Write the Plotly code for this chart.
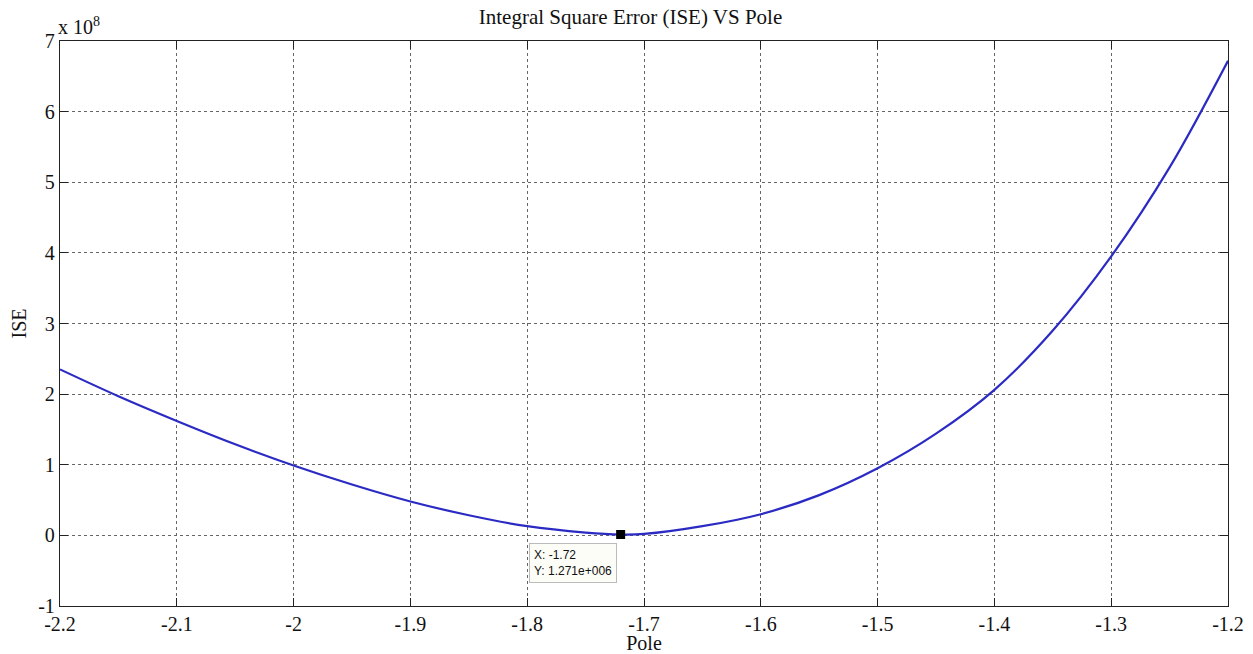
import plotly.graph_objects as go

# Data
pole = [-2.2, -2.15, -2.1, -2.05, -2.0, -1.95, -1.9, -1.85, -1.8, -1.75, -1.72,
        -1.7, -1.65, -1.6, -1.55, -1.5, -1.45, -1.4, -1.35, -1.3, -1.25, -1.2]
ise = [2.35e8, 1.97e8, 1.62e8, 1.29e8, 0.99e8, 0.72e8, 0.48e8, 0.285e8, 0.13e8, 0.04e8, 0.01271e8,
       0.02e8, 0.13e8, 0.30e8, 0.57e8, 0.95e8, 1.44e8, 2.06e8, 2.90e8, 3.95e8, 5.21e8, 6.72e8]
tip_x = [-1.72]
tip_y = [1.271e6]
x_ticks = [-2.2, -2.1, -2.0, -1.9, -1.8, -1.7, -1.6, -1.5, -1.4, -1.3, -1.2]
x_ticktext = ["-2.2", "-2.1", "-2", "-1.9", "-1.8", "-1.7", "-1.6", "-1.5", "-1.4", "-1.3", "-1.2"]
y_ticks = [-1e8, 0, 1e8, 2e8, 3e8, 4e8, 5e8, 6e8, 7e8]
y_ticktext = ["-1", "0", "1", "2", "3", "4", "5", "6", "7"]

serif = "Liberation Serif, Times New Roman, serif"

# page body has an 8px default margin; size the figure so it fits the 1253x654 window
W, H = 1245, 646

fig = go.Figure()
fig.add_trace(go.Scatter(x=pole, y=ise, mode="lines", line=dict(color="#2b2bc4", width=2.2),
                         line_shape="spline", hoverinfo="skip", showlegend=False))
fig.add_trace(go.Scatter(x=tip_x, y=tip_y, mode="markers",
                         marker=dict(symbol="square", size=9, color="black"),
                         showlegend=False))

axis_common = dict(showline=True, linecolor="#222", linewidth=1.3, mirror="ticks",
                   ticks="inside", ticklen=8, tickcolor="#222", tickwidth=1.3,
                   showgrid=True, gridcolor="#666", griddash="dot", gridwidth=1,
                   zeroline=False, automargin=False,
                   tickfont=dict(family=serif, size=20, color="#111"))

fig.update_xaxes(range=[-2.2, -1.2], tickvals=x_ticks, ticktext=x_ticktext,
                 title=dict(text="Pole", font=dict(family=serif, size=20, color="#111"), standoff=0),
                 **axis_common)
fig.update_yaxes(range=[-1e8, 7e8], tickvals=y_ticks, ticktext=y_ticktext,
                 title=dict(text="ISE", font=dict(family=serif, size=20, color="#111"), standoff=12),
                 **axis_common)

fig.add_annotation(x=tip_x[0], y=tip_y[0], xref="x", yref="y",
                   text="X: -1.72<br>Y: 1.271e+006", showarrow=False,
                   xanchor="right", yanchor="top", xshift=-4, yshift=-9,
                   align="left", font=dict(family="Liberation Sans, Arial, sans-serif", size=12, color="#111"),
                   bgcolor="#fdfdf8", bordercolor="#bbb", borderwidth=1, borderpad=4)

fig.add_annotation(x=0, y=1, xref="paper", yref="paper", xanchor="left", yanchor="bottom",
                   text="x 10<sup>8</sup>", showarrow=False, yshift=1, xshift=-4,
                   font=dict(family=serif, size=20, color="#111"))

fig.update_layout(
    width=W, height=H,
    margin=dict(l=52, r=25, t=33, b=48),
    paper_bgcolor="white", plot_bgcolor="white",
    title=dict(text="Integral Square Error (ISE) VS Pole", x=0.5, xanchor="center",
               y=1 - 9 / H, yanchor="middle", font=dict(family=serif, size=21, color="#111")),
)

fig.write_html("out.html")
